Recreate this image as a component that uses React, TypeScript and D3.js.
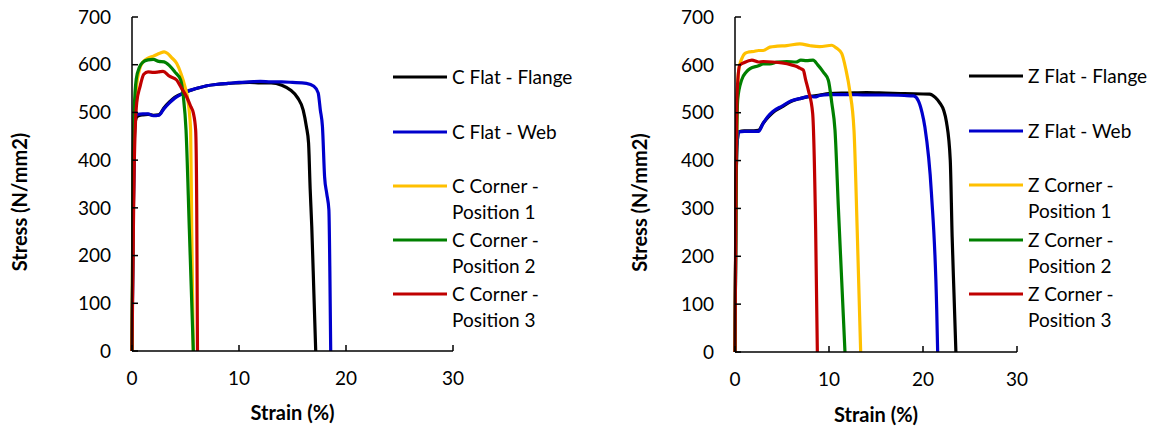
import React from "react";
import * as d3 from "d3";

type Pt = [number, number];

const xTicks = [0, 10, 20, 30];
const yTicks = [0, 100, 200, 300, 400, 500, 600, 700];

const cFlange: Pt[] = [[0,0],[0.1,250],[0.2,420],[0.3,480],[0.5,492],[1,495],[1.5,496],[2,494],[2.5,495],[3,510],[3.5,522],[4,532],[5,542],[6,550],[7,556],[8,559],[9,561],[10,562],[11,563],[12,562],[13,562],[14,557],[14.8,547],[15.5,530],[16.0,505],[16.3,470],[16.5,436],[16.65,340],[16.8,261],[17.0,120],[17.17,0]];
const cWeb: Pt[] = [[0,0],[0.1,250],[0.2,430],[0.3,490],[0.5,496],[1,497],[1.5,497],[2,493],[2.5,494],[3,508],[3.5,520],[4,530],[4.5,537],[5,543],[6,550],[7,556],[8,559],[9,561],[10,563],[11,564],[12,565],[13,564],[14,564],[15,563],[16.3,561],[17.0,555],[17.4,541],[17.6,505],[17.8,470],[18.0,365],[18.2,330],[18.4,296],[18.5,150],[18.57,0]];
const cPos1: Pt[] = [[0,0],[0.1,350],[0.2,480],[0.4,550],[0.7,590],[1,605],[1.5,614],[2,618],[2.6,624],[3.0,627],[3.3,624],[3.7,615],[4.17,603],[4.6,580],[4.95,554],[5.17,533],[5.48,463],[5.58,255],[5.73,0]];
const cPos2: Pt[] = [[0,0],[0.1,380],[0.2,500],[0.4,570],[0.7,595],[1,605],[1.5,610],[2,611],[2.5,607],[3,606],[3.5,598],[4,585],[4.55,568],[4.8,533],[5.05,463],[5.36,254],[5.73,0]];
const cPos3: Pt[] = [[0,0],[0.1,200],[0.2,380],[0.44,520],[0.75,554],[1.1,580],[1.5,585],[2,584],[2.5,585],[2.9,586],[3.5,576],[4.17,568],[4.6,552],[5.1,533],[5.5,512],[5.73,499],[5.95,463],[6.05,300],[6.12,0]];

const zFlange: Pt[] = [[0,0],[0.1,300],[0.2,430],[0.4,460],[1,462],[2,462],[2.5,463],[3,478],[3.5,490],[4,500],[5,512],[6,524],[7,530],[8,534],[9,537],[10,540],[12,541],[14,542],[16,541],[18,540],[20.7,539],[21.3,532],[21.8,520],[22.2,505],[22.5,480],[22.9,401],[23.1,241],[23.3,120],[23.5,0]];
const zWeb: Pt[] = [[0,0],[0.1,300],[0.2,430],[0.4,460],[1,461],[2,461],[2.5,461],[3,478],[3.5,492],[4,502],[5,514],[6,525],[7,530],[8,534],[8.5,533],[9,536],[10,538],[12,538],[14,537],[16,537],[18,536],[19,535],[19.5,525],[19.9,500],[20.2,470],[20.9,331],[21.46,88],[21.56,0]];
const zPos1: Pt[] = [[0,0],[0.1,300],[0.2,500],[0.4,590],[0.7,612],[1.06,624],[1.5,627],[2,628],[2.5,630],[3,630],[3.7,637],[4.5,639],[5.5,640],[6.9,644],[8,640],[9,638],[10.3,641],[10.8,635],[11.35,624],[11.8,590],[12.2,547],[12.66,463],[13.0,255],[13.37,0]];
const zPos2: Pt[] = [[0,0],[0.1,300],[0.2,470],[0.3,530],[0.7,568],[1.2,585],[1.6,592],[2.5,598],[3,602],[3.7,602],[4.5,606],[5.5,607],[6.5,606],[7,610],[7.6,609],[8.3,610],[8.8,600],[9.4,585],[9.93,568],[10.3,520],[10.64,463],[11.0,300],[11.35,150],[11.7,0]];
const zPos3: Pt[] = [[0,0],[0.1,350],[0.2,530],[0.5,599],[1,605],[1.8,610],[2.5,606],[3,607],[4,606],[5,604],[6,600],[6.5,597],[6.9,593],[7.27,589],[7.5,570],[7.8,547],[8.26,499],[8.58,255],[8.76,0]];

const colors = ["#000000", "#0000CC", "#FFC000", "#008000", "#C00000"];
const cNames = ["C Flat - Flange", "C Flat - Web", "C Corner -|Position 1", "C Corner -|Position 2", "C Corner -|Position 3"];
const zNames = ["Z Flat - Flange", "Z Flat - Web", "Z Corner -|Position 1", "Z Corner -|Position 2", "Z Corner -|Position 3"];

const FONT = "Lato, 'Open Sans', sans-serif";

interface PanelProps {
  series: Pt[][];
  names: string[];
  x0: number; x1: number; yTop: number; yBot: number;
  legX: number; legY: number[];
  yTitleX: number; xTitleY: number;
}

function Panel(p: PanelProps) {
  const x = d3.scaleLinear().domain([0, 30]).range([p.x0, p.x1]);
  const y = d3.scaleLinear().domain([0, 700]).range([p.yBot, p.yTop]);
  const line = d3.line<Pt>().x(d => x(d[0])).y(d => y(d[1])).curve(d3.curveMonotoneX);
  return (
    <g>
      {p.series.map((s, i) => (
        <path key={i} d={line(s) || ""} fill="none" stroke={colors[i]} strokeWidth={3.2} strokeLinejoin="round" strokeLinecap="butt" />
      ))}
      <line x1={p.x0} x2={p.x0} y1={p.yTop} y2={p.yBot} stroke="#000" strokeWidth={1.5} />
      <line x1={p.x0} x2={p.x1} y1={p.yBot} y2={p.yBot} stroke="#000" strokeWidth={1.5} />
      {yTicks.map(t => (
        <g key={t}>
          <line x1={p.x0} x2={p.x0 + 6} y1={y(t)} y2={y(t)} stroke="#000" strokeWidth={1.5} />
          <text x={p.x0 - 21} y={y(t)} dy="0.35em" textAnchor="end" fontSize={19} fontFamily={FONT} fill="#000">{t}</text>
        </g>
      ))}
      {xTicks.map(t => (
        <g key={t}>
          <line x1={x(t)} x2={x(t)} y1={p.yBot} y2={p.yBot - 6} stroke="#000" strokeWidth={1.5} />
          <text x={x(t)} y={p.yBot + 27} dy="0.35em" textAnchor="middle" fontSize={19} fontFamily={FONT} fill="#000">{t}</text>
        </g>
      ))}
      <text transform={`translate(${p.yTitleX},${(p.yTop + p.yBot) / 2 + 18}) rotate(-90)`} dy="0.35em" textAnchor="middle" fontSize={20} fontWeight="bold" fontFamily={FONT} fill="#000">Stress (N/mm2)</text>
      <text x={(p.x0 + p.x1) / 2} y={p.xTitleY} dy="0.35em" textAnchor="middle" fontSize={20} fontWeight="bold" fontFamily={FONT} fill="#000">Strain (%)</text>
      {p.names.map((n, i) => {
        const parts = n.split("|");
        const ly = p.legY[i];
        return (
          <g key={n}>
            <line x1={p.legX} x2={p.legX + 54} y1={ly} y2={ly} stroke={colors[i]} strokeWidth={3.2} />
            {parts.map((s, j) => (
              <text key={j} x={p.legX + 59} y={ly + j * 26} dy="0.35em" fontSize={19} fontFamily={FONT} fill="#000">{s}</text>
            ))}
          </g>
        );
      })}
    </g>
  );
}

export default function App() {
  return (
    <svg width={1156} height={428} style={{ position: "absolute", left: 0, top: 0, background: "#fff" }}>
      <rect width={1156} height={428} fill="#fff" />
      <Panel series={[cFlange, cWeb, cPos1, cPos2, cPos3]} names={cNames}
        x0={132} x1={453} yTop={17} yBot={351}
        legX={393} legY={[77, 132, 186, 240, 294]} yTitleX={20} xTitleY={413} />
      <Panel series={[zFlange, zWeb, zPos1, zPos2, zPos3]} names={zNames}
        x0={735} x1={1017} yTop={17} yBot={352}
        legX={969} legY={[76, 131, 185, 240, 294]} yTitleX={640} xTitleY={415} />
    </svg>
  );
}
